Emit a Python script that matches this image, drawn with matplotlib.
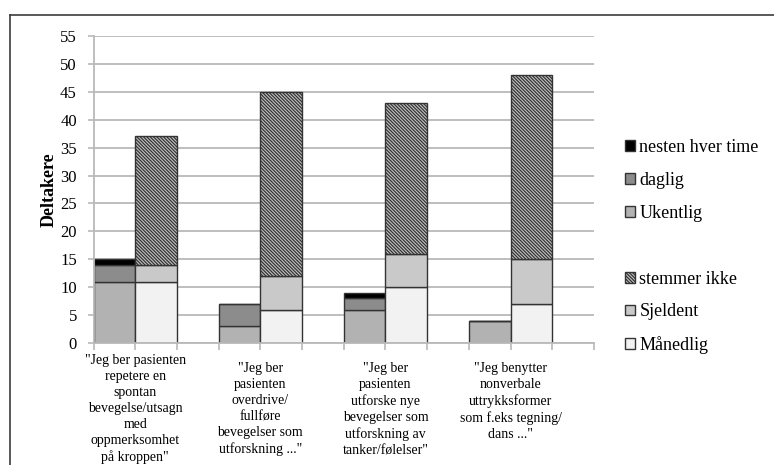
import matplotlib
matplotlib.use("Agg")
import matplotlib.pyplot as plt
from matplotlib.patches import Patch
from matplotlib.lines import Line2D

plt.rcParams["font.family"] = ["Liberation Serif", "DejaVu Serif"]
plt.rcParams["hatch.linewidth"] = 0.9

# Survey statements (x-axis categories)
categories = [
    '"Jeg ber pasienten\nrepetere en\nspontan\nbevegelse/utsagn\nmed\noppmerksomhet\npå kroppen"',
    '"Jeg ber\npasienten\noverdrive/\nfullføre\nbevegelser som\nutforskning ..."',
    '"Jeg ber\npasienten\nutforske nye\nbevegelser som\nutforskning av\ntanker/følelser"',
    '"Jeg benytter\nnonverbale\nuttrykksformer\nsom f.eks tegning/\ndans ..."',
]

# Left stack of each pair
ukentlig = [11, 3, 6, 4]
daglig = [3, 4, 2, 0]
nesten_hver_time = [1, 0, 1, 0]

# Right stack of each pair
maanedlig = [11, 6, 10, 7]
sjeldent = [3, 6, 6, 8]
stemmer_ikke = [23, 33, 27, 33]

yticks = list(range(0, 56, 5))

W, H = 774, 465
fig = plt.figure(figsize=(W / 100, H / 100), dpi=100)
fig.patch.set_facecolor("white")
ax = fig.add_axes([93.5 / W, 1 - 343 / H, (594 - 93.5) / W, (343 - 36) / H])

edge = "#333333"
grid_c = "#b9b9b9"
hatch = "\\" * 10
n = len(categories)
left_x = [3 * i for i in range(n)]
right_x = [3 * i + 1 for i in range(n)]

kw = dict(width=1.0, align="edge", edgecolor=edge, linewidth=1.0)

# left stacks
b0 = [0] * n
ax.bar(left_x, ukentlig, bottom=b0, color="#b2b2b2", **kw)
b1 = [a + b for a, b in zip(b0, ukentlig)]
ax.bar(left_x, daglig, bottom=b1, color="#8c8c8c", **kw)
b2 = [a + b for a, b in zip(b1, daglig)]
ax.bar(left_x, nesten_hver_time, bottom=b2, color="#000000", **kw)

# right stacks
ax.bar(right_x, maanedlig, bottom=b0, color="#f2f2f2", **kw)
r1 = [a + b for a, b in zip(b0, maanedlig)]
ax.bar(right_x, sjeldent, bottom=r1, color="#c9c9c9", **kw)
r2 = [a + b for a, b in zip(r1, sjeldent)]
ax.bar(right_x, stemmer_ikke, bottom=r2, color="#c4c4c4", hatch=hatch, **kw)

ax.set_xlim(0, 3 * n)
ax.set_ylim(0, 55)
ax.set_yticks(yticks)
ax.set_yticklabels([str(v) for v in yticks], fontsize=12)
ax.tick_params(axis="y", length=4, color=grid_c, width=1.2, pad=8)
ax.yaxis.grid(True, color=grid_c, linewidth=1.3)
ax.set_axisbelow(True)
for s in ("top", "right"):
    ax.spines[s].set_visible(False)
for s in ("left", "bottom"):
    ax.spines[s].set_color(grid_c)
    ax.spines[s].set_linewidth(1.3)

ax.set_xticks([])
ax.set_xticks(range(0, 3 * n + 1), minor=True)
ax.tick_params(axis="x", which="minor", length=5, color=grid_c, width=1.2)

# category labels under each pair of bars
label_drop = [11, 19, 19, 19]
for i, (lab, d) in enumerate(zip(categories, label_drop)):
    ax.annotate(lab, xy=(3 * i + 1, 0), xycoords=("data", "axes fraction"),
                xytext=(0, -d), textcoords="offset pixels",
                ha="center", va="top", multialignment="center",
                fontsize=10, linespacing=1.3)

ax.set_ylabel("Deltakere", fontsize=13, fontweight="bold", labelpad=2)

# legend (blank entry separates the two stacks)
handles = [
    Patch(facecolor="#000000", edgecolor=edge, linewidth=1.0),
    Patch(facecolor="#8c8c8c", edgecolor=edge, linewidth=1.0),
    Patch(facecolor="#b2b2b2", edgecolor=edge, linewidth=1.0),
    Patch(facecolor="none", edgecolor="none"),
    Patch(facecolor="#c4c4c4", edgecolor=edge, linewidth=1.0, hatch=hatch),
    Patch(facecolor="#c9c9c9", edgecolor=edge, linewidth=1.0),
    Patch(facecolor="#f2f2f2", edgecolor=edge, linewidth=1.0),
]
labels = ["nesten hver time", "daglig", "Ukentlig", " ",
          "stemmer ikke", "Sjeldent", "Månedlig"]
fig.legend(handles, labels, loc="upper left",
           bbox_to_anchor=(625 / W, 1 - 139 / H), frameon=False,
           fontsize=13, handlelength=0.55, handleheight=0.55,
           handletextpad=0.25, labelspacing=0.88, borderpad=0,
           borderaxespad=0)

# outer frame
fc = "#3c3c3c"
fig.add_artist(Line2D([10 / W, 1.0], [1 - 15 / H, 1 - 15 / H],
                      transform=fig.transFigure, color=fc, linewidth=1.2))
fig.add_artist(Line2D([10 / W, 10 / W], [0.0, 1 - 15 / H],
                      transform=fig.transFigure, color=fc, linewidth=1.2))

fig.savefig("out.png", dpi=100)
